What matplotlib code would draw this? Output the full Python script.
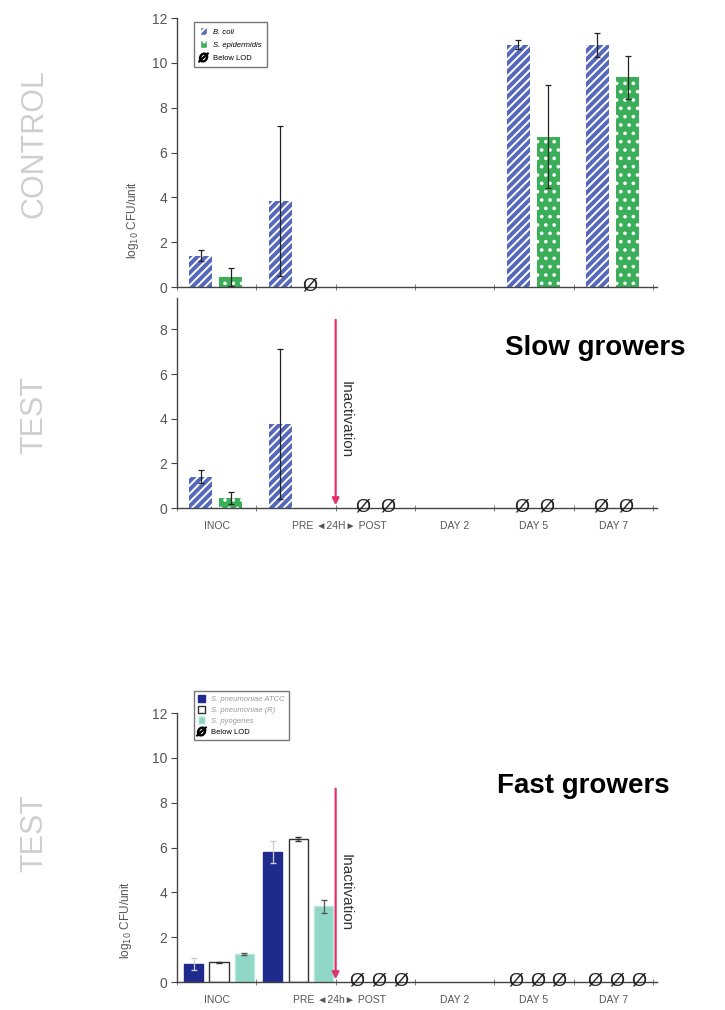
import numpy as np
import matplotlib
matplotlib.use('Agg')
import matplotlib.pyplot as plt
from matplotlib.patches import Patch
from matplotlib.lines import Line2D

plt.rcParams['font.family'] = ['Liberation Sans', 'DejaVu Sans']
plt.rcParams['hatch.linewidth'] = 1.4

# categories along the time axis
groups = ['INOC', 'PRE', 'POST', 'DAY 2', 'DAY 5', 'DAY 7']
xlabels = ['INOC', 'PRE \u25c424H\u25ba POST', 'DAY 2', 'DAY 5', 'DAY 7']
xlabels_fast = ['INOC', 'PRE \u25c424h\u25ba POST', 'DAY 2', 'DAY 5', 'DAY 7']

# slow growers, CONTROL (nan = no bar)
ctrl_coli = [1.4, 3.85, np.nan, np.nan, 10.8, 10.8]
ctrl_coli_err = [0.25, 3.35, 0, 0, 0.2, 0.55]
ctrl_epi = [0.45, np.nan, np.nan, np.nan, 6.7, 9.35]
ctrl_epi_err = [0.4, 0, 0, 0, 2.3, 0.95]
ctrl_coli_lod = [0, 0, 0, 0, 0, 0]
ctrl_epi_lod = [0, 1, 0, 0, 0, 0]

# slow growers, TEST
test_coli = [1.4, 3.75, np.nan, np.nan, np.nan, np.nan]
test_coli_err = [0.3, 3.35, 0, 0, 0, 0]
test_epi = [0.45, np.nan, np.nan, np.nan, np.nan, np.nan]
test_epi_err = [0.28, 0, 0, 0, 0, 0]
test_coli_lod = [0, 0, 1, 0, 1, 1]
test_epi_lod = [0, 0, 1, 0, 1, 1]

# fast growers, TEST
fast_atcc = [0.8, 5.8, np.nan, np.nan, np.nan, np.nan]
fast_atcc_err = [0.25, 0.5, 0, 0, 0, 0]
fast_r = [0.88, 6.38, np.nan, np.nan, np.nan, np.nan]
fast_r_err = [0.03, 0.08, 0, 0, 0, 0]
fast_pyo = [1.25, 3.38, np.nan, np.nan, np.nan, np.nan]
fast_pyo_err = [0.05, 0.3, 0, 0, 0, 0]
fast_lod = [0, 0, 1, 0, 1, 1]

blue = '#5568bb'
green = '#3aae58'
navy = '#1e2b8c'
teal = '#90d8c6'
pink = '#e3306c'
grey_txt = '#555555'

fig = plt.figure(figsize=(7.25, 10.1), dpi=100)
ax1 = fig.add_axes([0.2441, 0.7158, 0.662, 0.2663])
ax2 = fig.add_axes([0.2441, 0.497, 0.662, 0.2079])
ax3 = fig.add_axes([0.2441, 0.0277, 0.662, 0.2663])

x = np.arange(len(groups))


def style_axis(ax, ymax, yticks, labels=None):
    ax.set_xlim(0, 6.05)
    ax.set_ylim(0, ymax)
    for s in ['top', 'right']:
        ax.spines[s].set_visible(False)
    for s in ['left', 'bottom']:
        ax.spines[s].set_color('#444444')
        ax.spines[s].set_linewidth(1.0)
    ax.set_yticks(yticks)
    ax.tick_params(axis='y', direction='out', length=4, color='#444444',
                   labelsize=10, labelcolor=grey_txt, pad=3)
    ax.set_xticks(np.arange(0, 7), minor=True)
    ax.tick_params(axis='x', which='minor', direction='inout', length=5, color='#666666')
    if labels:
        ax.set_xticks([0.5, 2.05, 3.5, 4.5, 5.5])
        ax.set_xticklabels(labels, fontsize=7.5, color=grey_txt)
        ax.tick_params(axis='x', which='major', length=0, pad=9)
    else:
        ax.set_xticks([])


def bars(ax, pos, vals, errs, **kw):
    ax.bar(pos, vals, width=0.29, **kw)
    ax.errorbar(pos, vals, yerr=errs, fmt='none', ecolor='#222222', elinewidth=0.9,
                capsize=2.5, capthick=0.9)


def lod_marks(ax, pos, flags):
    for p, f in zip(pos, flags):
        if f:
            ax.text(p, 0.05, '\u00d8', ha='center', va='center', fontsize=14,
                    color='#222222', clip_on=False, zorder=5)


# CONTROL panel
bars(ax1, x + 0.3, ctrl_coli, ctrl_coli_err, color=blue, edgecolor='white', hatch='////', linewidth=0)
bars(ax1, x + 0.68, ctrl_epi, ctrl_epi_err, color=green, edgecolor='white', hatch='..', linewidth=0)
lod_marks(ax1, x + 0.3, ctrl_coli_lod)
lod_marks(ax1, x + 0.68, ctrl_epi_lod)
style_axis(ax1, 12, range(0, 13, 2))
ax1.set_ylabel(r'log$_{10}$ CFU/unit', fontsize=8.5, color=grey_txt)
ax1.yaxis.set_label_coords(-0.075, 0.25)

leg_handles = [Patch(facecolor=blue, edgecolor='white', hatch='////'),
               Patch(facecolor=green, edgecolor='white', hatch='..'),
               Line2D([], [], marker='$\u00d8$', linestyle='none', color='k', markersize=7)]
leg = ax1.legend(leg_handles, ['B. coli', 'S. epidermidis', 'Below LOD'],
                 loc='upper left', bbox_to_anchor=(0.028, 1.0), fontsize=5.5,
                 frameon=True, fancybox=False, edgecolor='#555555',
                 handlelength=1.0, handleheight=1.2, borderpad=0.7, labelspacing=0.6)
leg.get_frame().set_linewidth(1.0)
for t in leg.get_texts()[:2]:
    t.set_style('italic')

# TEST panel, slow growers
bars(ax2, x + 0.3, test_coli, test_coli_err, color=blue, edgecolor='white', hatch='////', linewidth=0)
bars(ax2, x + 0.68, test_epi, test_epi_err, color=green, edgecolor='white', hatch='..', linewidth=0)
lod_marks(ax2, x + 0.35, test_coli_lod)
lod_marks(ax2, x + 0.66, test_epi_lod)
style_axis(ax2, 9.4, range(0, 9, 2), xlabels)
ax2.annotate('', xy=(2.0, 0), xytext=(2.0, 8.55),
             arrowprops=dict(arrowstyle='-|>', color=pink, lw=1.6, mutation_scale=10))
ax2.text(2.04, 3.95, 'Inactivation', rotation=-90, ha='left', va='center',
         fontsize=11, color='#333333')

# TEST panel, fast growers
ax3.bar(x + 0.21, fast_atcc, width=0.24, color=navy, edgecolor=navy, linewidth=1)
ax3.errorbar(x + 0.21, fast_atcc, yerr=fast_atcc_err, fmt='none', ecolor='#cccccc',
             elinewidth=0.9, capsize=2.5)
ax3.bar(x + 0.53, fast_r, width=0.24, color='white', edgecolor='#333333', linewidth=1)
ax3.errorbar(x + 0.53, fast_r, yerr=fast_r_err, fmt='none', ecolor='#333333',
             elinewidth=0.9, capsize=2.5)
ax3.bar(x + 0.85, fast_pyo, width=0.24, color=teal, edgecolor='#b8e6da', linewidth=1)
ax3.errorbar(x + 0.85, fast_pyo, yerr=fast_pyo_err, fmt='none', ecolor='#555555',
             elinewidth=0.9, capsize=2.5)
for off in [0.27, 0.55, 0.82]:
    lod_marks(ax3, x + off, fast_lod)
style_axis(ax3, 12, range(0, 13, 2), xlabels_fast)
ax3.set_ylabel(r'log$_{10}$ CFU/unit', fontsize=8.5, color=grey_txt)
ax3.yaxis.set_label_coords(-0.09, 0.23)
ax3.annotate('', xy=(2.0, 0), xytext=(2.0, 8.75),
             arrowprops=dict(arrowstyle='-|>', color=pink, lw=1.6, mutation_scale=10))
ax3.text(2.04, 4.0, 'Inactivation', rotation=-90, ha='left', va='center',
         fontsize=11, color='#333333')

fast_handles = [Patch(facecolor=navy, edgecolor=navy),
                Patch(facecolor='white', edgecolor='#333333'),
                Patch(facecolor=teal, edgecolor='#e0f4ef'),
                Line2D([], [], marker='$\u00d8$', linestyle='none', color='k', markersize=7)]
leg3 = ax3.legend(fast_handles, ['S. pneumoniae ATCC', 'S. pneumoniae (R)', 'S. pyogenes', 'Below LOD'],
                  loc='upper left', bbox_to_anchor=(0.027, 1.097), fontsize=5.5,
                  frameon=True, fancybox=False, edgecolor='#555555',
                  handlelength=1.0, handleheight=1.1, borderpad=0.5, labelspacing=0.35)
leg3.get_frame().set_linewidth(1.0)
for t in leg3.get_texts()[:3]:
    t.set_style('italic')
    t.set_color('#999999')

# side labels and titles
side = dict(rotation=90, ha='center', va='center', fontsize=22, color='#cfcfcf')
fig.text(0.047, 1 - 143 / 1010, 'CONTROL', **side)
fig.text(0.047, 1 - 415 / 1010, 'TEST', **side)
fig.text(0.047, 1 - 833 / 1010, 'TEST', **side)
fig.text(0.697, 1 - 348 / 1010, 'Slow growers', fontsize=20, fontweight='bold',
         ha='left', va='center')
fig.text(0.686, 1 - 786 / 1010, 'Fast growers', fontsize=20, fontweight='bold',
         ha='left', va='center')

fig.savefig('out.png', dpi=100)
